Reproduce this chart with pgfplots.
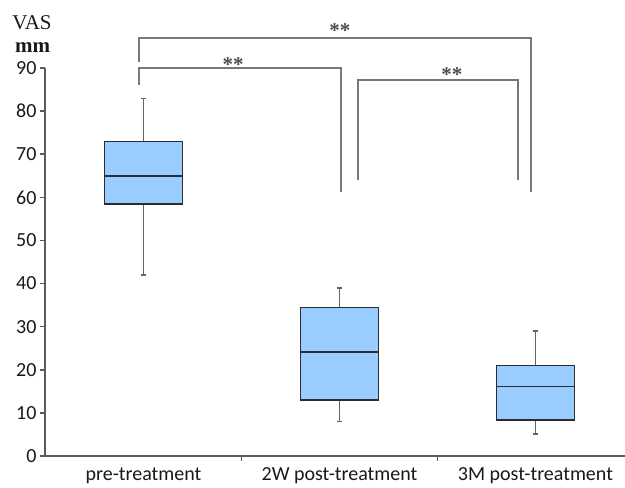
\documentclass[border=0pt]{standalone}
\usepackage{fontspec}
\setmainfont{Carlito}
\newfontfamily\seriffont{Liberation Serif}
\usepackage{pgfplots}
\pgfplotsset{compat=1.18}
\definecolor{boxfill}{RGB}{153,204,255}
\definecolor{boxedge}{RGB}{45,45,45}
\definecolor{whisk}{RGB}{100,100,100}
\definecolor{brk}{RGB}{120,120,120}
\definecolor{axisgray}{RGB}{90,90,90}
\pgfplotsset{
  boxrect/.style={draw=boxedge, fill=boxfill, line width=1.5bp, mark=none},
  boxline/.style={draw=boxedge, line width=1.5bp, mark=none},
  whiskline/.style={draw=whisk, line width=1.7bp, mark=none},
}
\begin{document}
\begin{tikzpicture}
\begin{axis}[
  scale only axis, width=580bp, height=388bp,
  xmin=-0.5026, xmax=2.457, ymin=0, ymax=90,
  axis x line=bottom, axis y line=left,
  axis line style={-, axisgray, line width=1.8bp},
  ytick={0,10,...,90},
  xtick={0.5,1.5}, xticklabels={},
  extra x ticks={0,1,2},
  extra x tick labels={pre-treatment,2W post-treatment,3M post-treatment},
  extra x tick style={major tick length=0pt},
  tick align=outside, major tick length=5bp,
  tick style={axisgray, line width=1.5bp},
  ticklabel style={font=\fontsize{20bp}{24bp}\selectfont, text=black!90},
  xticklabel style={yshift=-8bp},
  /pgf/number format/assume math mode=true,
  clip=false,
]
\coordinate (SW) at (rel axis cs:0,0);
% box 1: pre-treatment (lw 42, q1 58.4, med 64.9, q3 72.9, uw 82.9)
\addplot[whiskline] coordinates {(0,72.9) (0,82.9)};
\addplot[whiskline] coordinates {(-0.015,82.9) (0.015,82.9)};
\addplot[whiskline] coordinates {(0,58.4) (0,42.0)};
\addplot[whiskline] coordinates {(-0.015,42.0) (0.015,42.0)};
\addplot[boxrect] coordinates {(-0.2,58.4) (0.2,58.4) (0.2,72.9) (-0.2,72.9) (-0.2,58.4)} -- cycle;
\addplot[boxline] coordinates {(-0.2,64.9) (0.2,64.9)};
% box 2: 2W (lw 8, q1 13, med 24.1, q3 34.5, uw 39)
\addplot[whiskline] coordinates {(1,34.5) (1,39.0)};
\addplot[whiskline] coordinates {(0.985,39.0) (1.015,39.0)};
\addplot[whiskline] coordinates {(1,13.0) (1,8.0)};
\addplot[whiskline] coordinates {(0.985,8.0) (1.015,8.0)};
\addplot[boxrect] coordinates {(0.8,13.0) (1.2,13.0) (1.2,34.5) (0.8,34.5) (0.8,13.0)} -- cycle;
\addplot[boxline] coordinates {(0.8,24.1) (1.2,24.1)};
% box 3: 3M (lw 5.1, q1 8.3, med 16.1, q3 21, uw 29)
\addplot[whiskline] coordinates {(2,21.0) (2,29.0)};
\addplot[whiskline] coordinates {(1.985,29.0) (2.015,29.0)};
\addplot[whiskline] coordinates {(2,8.3) (2,5.1)};
\addplot[whiskline] coordinates {(1.985,5.1) (2.015,5.1)};
\addplot[boxrect] coordinates {(1.8,8.3) (2.2,8.3) (2.2,21.0) (1.8,21.0) (1.8,8.3)} -- cycle;
\addplot[boxline] coordinates {(1.8,16.1) (2.2,16.1)};
% significance brackets
\addplot[brk, line width=2bp, mark=none] coordinates {(-0.023,91.4) (-0.023,97.0) (1.976,97.0) (1.976,61.3)};
\addplot[brk, line width=2bp, mark=none] coordinates {(-0.023,86.0) (-0.023,89.9) (1.008,89.9) (1.008,61.3)};
\addplot[brk, line width=2bp, mark=none] coordinates {(1.096,64.0) (1.096,87.3) (1.912,87.3) (1.912,64.0)};
\node[font=\seriffont\bfseries\fontsize{21bp}{22bp}\selectfont, text=black!70] at (axis cs:1.0026,98.7) {**};
\node[font=\seriffont\bfseries\fontsize{21bp}{22bp}\selectfont, text=black!70] at (axis cs:0.457,90.7) {**};
\node[font=\seriffont\bfseries\fontsize{21bp}{22bp}\selectfont, text=black!70] at (axis cs:1.574,88.4) {**};
\node[anchor=base, font=\seriffont\fontsize{21bp}{24bp}\selectfont, text=black!90] at (axis cs:-0.569,99.0) {VAS};
\node[anchor=base, font=\seriffont\bfseries\fontsize{21bp}{24bp}\selectfont, text=black!90] at (axis cs:-0.566,93.7) {mm};
\end{axis}
\pgfresetboundingbox
\path ([xshift=-45bp,yshift=-32bp]SW) rectangle ([xshift=580bp,yshift=456bp]SW);
\end{tikzpicture}
\end{document}
